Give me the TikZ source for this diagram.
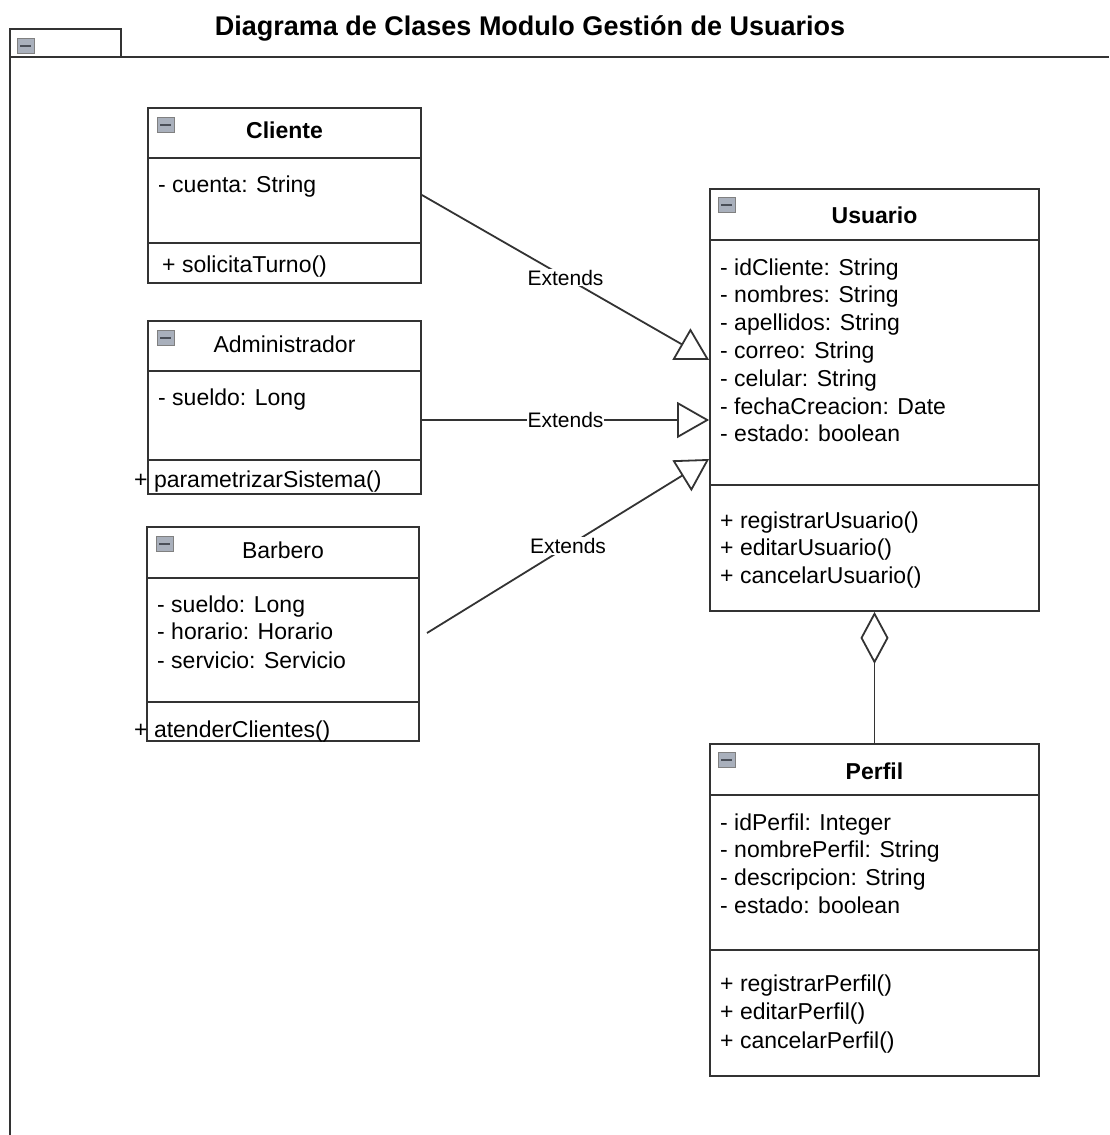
\documentclass[tikz,border=0pt]{standalone}
\usepackage{fontspec}
\setmainfont{Liberation Sans}
\usetikzlibrary{arrows.meta}
\definecolor{linec}{HTML}{333333}
\definecolor{iconfill}{HTML}{A9B0BC}
\definecolor{icondash}{HTML}{4A4F58}
\newcommand{\clsicon}[2]{%
  \node[icon, anchor=north west] (#1) at #2 {};
  \draw[icondash, line width=2.4pt] ([xshift=-5.5pt]#1.center) -- ([xshift=5.5pt]#1.center);
}
\begin{document}
\begin{tikzpicture}[x=1pt,y=-1pt,
 classbox/.style={draw=linec, line width=1.8pt, rectangle, inner sep=0pt},
 txt/.style={inner sep=0pt, anchor=base west, font=\fontsize{23}{28}\selectfont},
 hdr/.style={inner sep=0pt, anchor=base, font=\fontsize{23}{28}\selectfont},
 hdrb/.style={inner sep=0pt, anchor=base, font=\fontsize{23}{28}\selectfont\bfseries},
 ext/.style={draw=linec, line width=1.8pt, -{Triangle[open, length=32pt, width=36pt, line width=1.8pt]}},
 agg/.style={draw=linec, line width=1.8pt, {Diamond[open, length=52pt, width=28pt, line width=1.8pt]}-},
 lbl/.style={fill=white, inner sep=1pt, font=\fontsize{21}{24}\selectfont},
 div/.style={draw=linec, line width=1.8pt},
 icon/.style={draw=gray, fill=iconfill, minimum width=17pt, minimum height=15pt, inner sep=0pt}
]
\useasboundingbox (0,0) rectangle (1109,1135);
% frame
\draw[div] (10,1135) -- (10,29) -- (121,29) -- (121,57);
\draw[div] (10,57) -- (1109,57);
\clsicon{frm-ic}{(17,38)}
\node[inner sep=0pt, anchor=base, font=\fontsize{27}{30}\selectfont\bfseries] (title) at (530,35) {Diagrama de Clases Modulo Gestión de Usuarios};

% Cliente
\node[classbox, minimum width=273pt, minimum height=175pt] (cli) at (284.5,195.5) {};
\draw[div] (cli.west |- 0,158) -- (cli.east |- 0,158);
\draw[div] (cli.west |- 0,243) -- (cli.east |- 0,243);
\clsicon{cli-ic}{(157,117)}
\node[hdrb] (cli-n) at (284.5,138) {Cliente};
\node[txt] (cli-a1) at (158,192) {- cuenta: String};
\node[txt] (cli-m1) at (162,272) {+ solicitaTurno()};

% Administrador
\node[classbox, minimum width=273pt, minimum height=173pt] (adm) at (284.5,407.5) {};
\draw[div] (adm.west |- 0,371) -- (adm.east |- 0,371);
\draw[div] (adm.west |- 0,460) -- (adm.east |- 0,460);
\clsicon{adm-ic}{(157,330)}
\node[hdr] (adm-n) at (284.5,352) {Administrador};
\node[txt] (adm-a1) at (158,405) {- sueldo: Long};
\node[txt] (adm-m1) at (134,487) {+ parametrizarSistema()};

% Barbero
\node[classbox, minimum width=272pt, minimum height=214pt] (bar) at (283,634) {};
\draw[div] (bar.west |- 0,578) -- (bar.east |- 0,578);
\draw[div] (bar.west |- 0,702) -- (bar.east |- 0,702);
\clsicon{bar-ic}{(156,536)}
\node[hdr] (bar-n) at (283,558) {Barbero};
\node[txt] (bar-a1) at (157,612) {- sueldo: Long};
\node[txt] (bar-a2) at (157,639) {- horario: Horario};
\node[txt] (bar-a3) at (157,668) {- servicio: Servicio};
\node[txt] (bar-m1) at (134,737) {+ atenderClientes()};

% Usuario
\node[classbox, minimum width=329pt, minimum height=422pt] (usu) at (874.5,400) {};
\draw[div] (usu.west |- 0,240) -- (usu.east |- 0,240);
\draw[div] (usu.west |- 0,485) -- (usu.east |- 0,485);
\clsicon{usu-ic}{(718,197)}
\node[hdrb] (usu-n) at (874.5,223) {Usuario};
\foreach \t [count=\i] in {- idCliente: String, - nombres: String, - apellidos: String, - correo: String, - celular: String, - fechaCreacion: Date, - estado: boolean}
  \node[txt] (usu-a\i) at (720,{275+27.8*(\i-1)}) {\t};
\foreach \t [count=\i] in {+ registrarUsuario(), + editarUsuario(), + cancelarUsuario()}
  \node[txt] (usu-m\i) at (720,{528+27.5*(\i-1)}) {\t};

% Perfil
\node[classbox, minimum width=329pt, minimum height=332pt] (per) at (874.5,910) {};
\draw[div] (per.west |- 0,795) -- (per.east |- 0,795);
\draw[div] (per.west |- 0,950) -- (per.east |- 0,950);
\clsicon{per-ic}{(718,752)}
\node[hdrb] (per-n) at (874.5,779) {Perfil};
\foreach \t [count=\i] in {- idPerfil: Integer, - nombrePerfil: String, - descripcion: String, - estado: boolean}
  \node[txt] (per-a\i) at (720,{830+27.7*(\i-1)}) {\t};
\foreach \t [count=\i] in {+ registrarPerfil(), + editarPerfil(), + cancelarPerfil()}
  \node[txt] (per-m\i) at (720,{991.5+28.3*(\i-1)}) {\t};

% connectors
\coordinate (barout) at (427,633);
\draw[ext] (cli.east |- 0,195) -- node[lbl] (l1) {Extends} (usu.west |- 0,360);
\draw[ext] (adm.east |- 0,420) -- node[lbl] (l2) {Extends} (usu.west |- 0,420);
\draw[ext] (barout) -- node[lbl] (l3) {Extends} (usu.west |- 0,459);
\draw[agg] (usu.south) -- (per.north);
\end{tikzpicture}
\end{document}
